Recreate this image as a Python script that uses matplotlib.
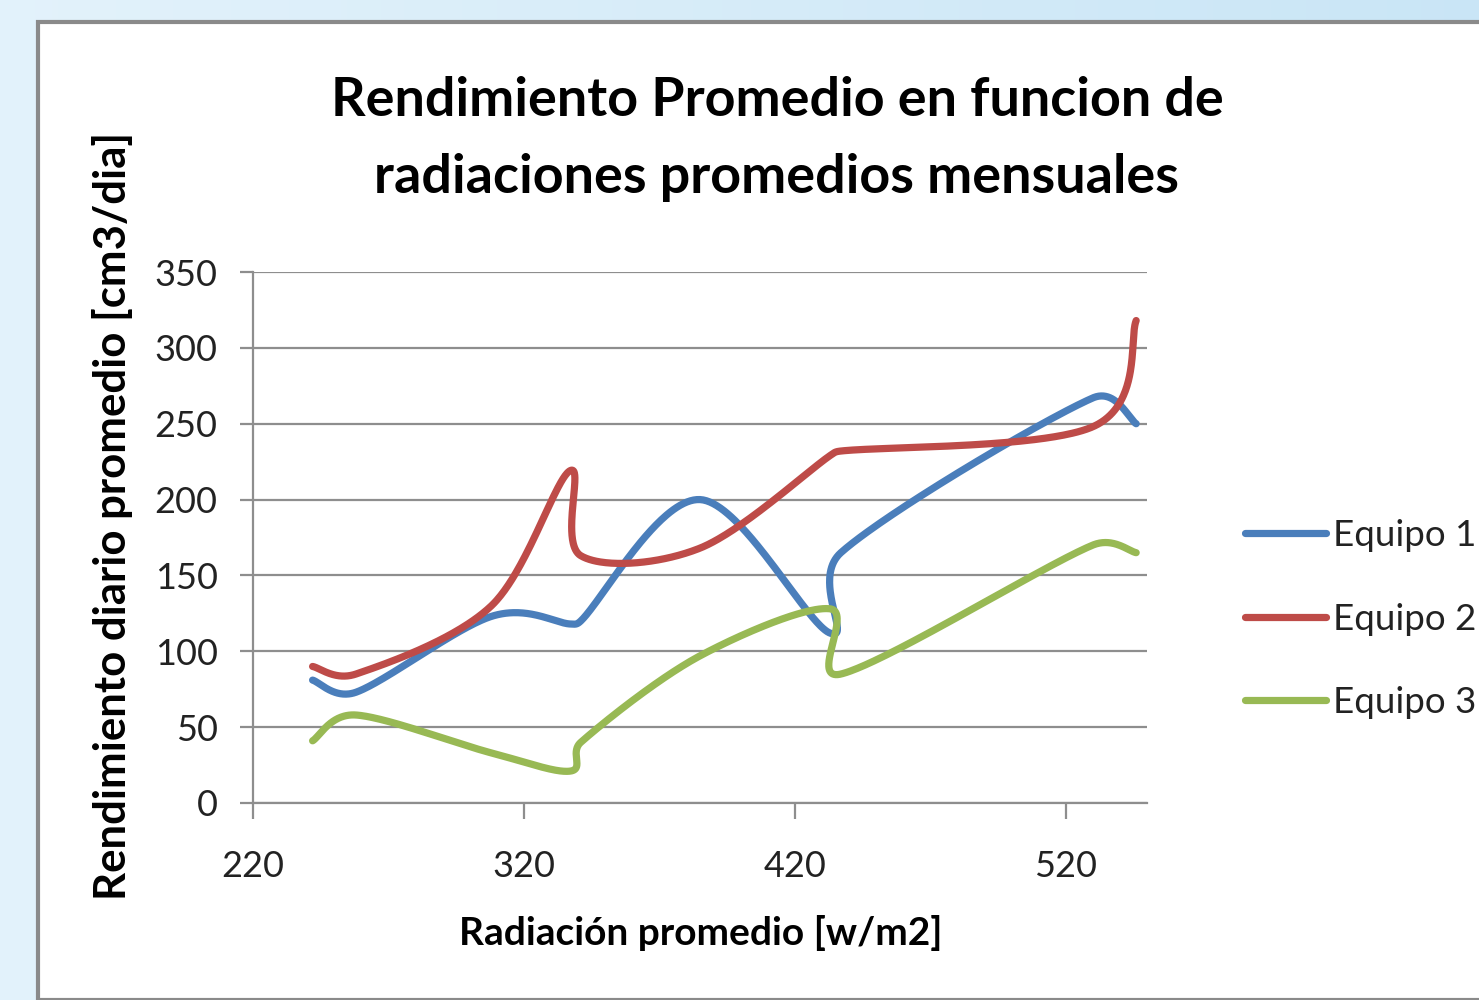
#!/usr/bin/env python
"""Rendimiento promedio vs radiacion: Excel-style smoothed scatter lines."""
import matplotlib

matplotlib.use("Agg")
import matplotlib.pyplot as plt
import numpy as np
from matplotlib.patches import Rectangle

# radiacion promedio mensual [w/m2], same for every equipo
radiacion = [242, 258, 308, 337, 341, 385, 433, 437, 530, 546]
equipo1 = [81, 73, 123, 118, 120, 200, 112, 165, 267, 250]
equipo2 = [90, 85, 130, 219, 163, 168, 229, 232, 248, 318]
equipo3 = [41, 58, 33, 21, 40, 97, 128, 85, 170, 165]
series = [("Equipo 1", equipo1), ("Equipo 2", equipo2), ("Equipo 3", equipo3)]
colors = ["#4a7ebb", "#be4b48", "#98b954"]

x_ticks = [220, 320, 420, 520]
y_ticks = [0, 50, 100, 150, 200, 250, 300, 350]

FONT = ["Lato", "DejaVu Sans"]
W, H = 1479, 1000
XLIM, YLIM = (220, 550), (0, 350)
AX_PX = (253, 272, 1147, 803)  # left, top, right, bottom in pixels


def smooth(xs, ys, sx, sy, n=80, f=1 / 6):
    # excel-ish smoothing: bezier with catmull-rom tangents, control arm capped at half segment
    p = np.column_stack([np.asarray(xs) * sx, np.asarray(ys) * sy]).astype(float)
    ext = np.vstack([p[0], p, p[-1]])
    t = np.linspace(0, 1, n)[:, None]
    out = []
    for i in range(len(p) - 1):
        p0, p1, p2, p3 = ext[i], ext[i + 1], ext[i + 2], ext[i + 3]
        d12 = np.hypot(*(p2 - p1))
        d02 = np.hypot(*(p2 - p0))
        d13 = np.hypot(*(p3 - p1))
        b1 = f if d02 * f < d12 / 2 else d12 / (2 * d02)
        b2 = f if d13 * f < d12 / 2 else d12 / (2 * d13)
        c1 = p1 + b1 * (p2 - p0)
        c2 = p2 - b2 * (p3 - p1)
        seg = ((1 - t) ** 3) * p1 + 3 * ((1 - t) ** 2) * t * c1 + 3 * (1 - t) * t ** 2 * c2 + t ** 3 * p2
        out.append(seg)
    out = np.vstack(out)
    return out[:, 0] / sx, out[:, 1] / sy


fig = plt.figure(figsize=(W / 100, H / 100), dpi=100)

# light blue backdrop + white chart area
bg = fig.add_axes([0, 0, 1, 1], zorder=-10)
grad = np.linspace(0, 1, 256)[None, :]
c0, c1 = np.array([0.89, 0.95, 0.985]), np.array([0.79, 0.90, 0.965])
img = c0[None, None, :] * (1 - grad[..., None]) + c1[None, None, :] * grad[..., None]
bg.imshow(img, aspect="auto", extent=[0, 1, 0, 1])
bg.add_patch(Rectangle((38 / W, 0), 1.0, 1 - 22 / H, facecolor="white",
                       edgecolor="#8a8a8a", linewidth=3))
bg.set_xlim(0, 1)
bg.set_ylim(0, 1)
bg.axis("off")

l, tp, r, b = AX_PX
ax = fig.add_axes([l / W, 1 - b / H, (r - l) / W, (b - tp) / H])
px_x = (r - l) / (XLIM[1] - XLIM[0])
px_y = (b - tp) / (YLIM[1] - YLIM[0])
for (name, ys), col in zip(series, colors):
    cx, cy = smooth(radiacion, ys, px_x, px_y)
    ax.plot(cx, cy, color=col, linewidth=5.2, solid_capstyle="round", label=name, zorder=3)

ax.set_xlim(*XLIM)
ax.set_ylim(*YLIM)
ax.set_xticks(x_ticks)
ax.set_yticks(y_ticks)
ax.grid(axis="y", color="#8e8e8e", linewidth=1.6)
ax.set_axisbelow(True)
for s in ("top", "right"):
    ax.spines[s].set_visible(False)
for s in ("left", "bottom"):
    ax.spines[s].set_color("#8e8e8e")
    ax.spines[s].set_linewidth(1.6)
ax.tick_params(axis="y", length=9.5, width=1.6, color="#8e8e8e", pad=16)
ax.tick_params(axis="x", length=11.5, width=1.6, color="#8e8e8e", pad=22)
for lab in ax.get_xticklabels() + ax.get_yticklabels():
    lab.set_family(FONT)
    lab.set_fontsize(26)
    lab.set_color("#222222")

leg = ax.legend(loc="center left", bbox_to_anchor=(1230 / W, 1 - 619 / H),
                bbox_transform=fig.transFigure, frameon=False, handlelength=2.2,
                handletextpad=0.2, labelspacing=1.37, borderaxespad=0,
                prop={"family": FONT, "size": 26.5})
for t in leg.get_texts():
    t.set_color("#222222")

fig.text(777 / W, 1 - 100 / H, "Rendimiento Promedio en funcion de", ha="center", va="center",
         family=FONT, weight="bold", fontsize=38.8)
fig.text(777 / W, 1 - 178 / H, "radiaciones promedios mensuales", ha="center", va="center",
         family=FONT, weight="bold", fontsize=38.8)
fig.text(701 / W, 1 - 933 / H, "Radiación promedio [w/m2]", ha="center", va="center",
         family=FONT, weight="bold", fontsize=28)
fig.text(113 / W, 1 - 516 / H, "Rendimiento diario promedio [cm3/dia]", ha="center", va="center",
         rotation=90, family=FONT, weight="bold", fontsize=31.5)

fig.savefig("out.png", dpi=100)
